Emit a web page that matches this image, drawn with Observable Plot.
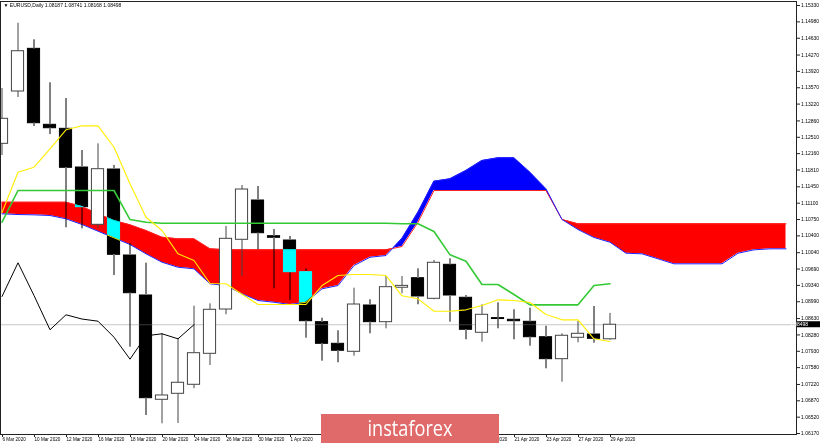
<!DOCTYPE html>
<html><head><meta charset="utf-8">
<script src="https://cdn.jsdelivr.net/npm/d3@7"></script>
<script src="https://cdn.jsdelivr.net/npm/@observablehq/plot@0.6"></script>
<style>
html,body{margin:0;padding:0;background:#fff;}
#wrap{position:relative;width:820px;height:445px;overflow:hidden;}
#wm{position:absolute;left:321px;top:414px;}
</style></head><body>
<div id="wrap"><div id="chart"></div>
<svg id="wm" width="178" height="29"><rect width="178" height="29" fill="#e06a6a"></rect><text x="89" y="21.5" text-anchor="middle" fill="#fff" font-family="Open Sans, sans-serif" font-size="21" textLength="85" lengthAdjust="spacingAndGlyphs">instaforex</text></svg>
</div>
<script>
const title = "\u25BC EURUSD,Daily 1.08187 1.08741 1.08168 1.08498";
const dates = ["6 Mar 2020","9 Mar 2020","10 Mar 2020","11 Mar 2020","12 Mar 2020","13 Mar 2020","16 Mar 2020","17 Mar 2020","18 Mar 2020","19 Mar 2020","20 Mar 2020","23 Mar 2020","24 Mar 2020","25 Mar 2020","26 Mar 2020","27 Mar 2020","30 Mar 2020","31 Mar 2020","1 Apr 2020","2 Apr 2020","3 Apr 2020","6 Apr 2020","7 Apr 2020","8 Apr 2020","9 Apr 2020","10 Apr 2020","13 Apr 2020","14 Apr 2020","15 Apr 2020","16 Apr 2020","17 Apr 2020","20 Apr 2020","21 Apr 2020","22 Apr 2020","23 Apr 2020","24 Apr 2020","27 Apr 2020","28 Apr 2020","29 Apr 2020"];
const opens  = [1.12370,1.13490,1.14403,1.12777,1.12691,1.11863,1.10637,1.11820,1.09980,1.09124,1.06892,1.07020,1.07213,1.07876,1.08824,1.10316,1.11157,1.10393,1.10301,1.09623,1.08553,1.08090,1.07919,1.08910,1.08553,1.09290,1.09494,1.09053,1.09781,1.09075,1.08326,1.08640,1.08604,1.08561,1.08231,1.07761,1.08219,1.08289,1.08187];
const highs  = [1.13554,1.14951,1.14596,1.13676,1.13340,1.12227,1.12370,1.11906,1.10237,1.09815,1.08311,1.08204,1.08895,1.08946,1.10601,1.11478,1.11457,1.10536,1.10387,1.09695,1.08638,1.08369,1.09280,1.09032,1.09531,1.09531,1.09695,1.09873,1.09909,1.09124,1.08925,1.08968,1.08818,1.08852,1.08467,1.08304,1.08568,1.08889,1.08741];
const lows   = [1.12120,1.13361,1.12741,1.12569,1.10573,1.10551,1.10560,1.09552,1.08018,1.06556,1.06378,1.06385,1.07130,1.07626,1.08711,1.09531,1.10102,1.09267,1.09017,1.08210,1.07718,1.07684,1.07825,1.08304,1.08411,1.09160,1.08925,1.09032,1.08553,1.08176,1.08125,1.08411,1.08176,1.08039,1.07555,1.07269,1.08112,1.08103,1.08168];
const closes = [1.12905,1.14352,1.12811,1.12704,1.11857,1.11014,1.11827,1.09995,1.09173,1.06926,1.06984,1.07256,1.07889,1.08818,1.10337,1.11392,1.10457,1.10359,1.09623,1.08574,1.08090,1.07941,1.08931,1.08553,1.09302,1.09330,1.09103,1.09824,1.09124,1.08390,1.08711,1.08620,1.08574,1.08231,1.07761,1.08262,1.08304,1.08197,1.08498];
const tenkan = [1.10900,1.11762,1.11869,1.12263,1.12670,1.12755,1.12755,1.12297,1.11514,1.10799,1.10515,1.10016,1.09872,1.09380,1.09374,1.09151,1.08931,1.08931,1.08931,1.08931,1.09337,1.09551,1.09573,1.09573,1.09551,1.09117,1.09053,1.08787,1.08787,1.08817,1.08910,1.09031,1.09016,1.08974,1.08716,1.08603,1.08603,1.08197,1.08139];
const kijun  = [1.10692,1.11371,1.11371,1.11371,1.11371,1.11371,1.11371,1.11371,1.10750,1.10690,1.10670,1.10670,1.10670,1.10670,1.10670,1.10670,1.10670,1.10670,1.10670,1.10670,1.10670,1.10670,1.10670,1.10670,1.10670,1.10660,1.10660,1.10493,1.09994,1.09857,1.09359,1.09359,1.09145,1.08924,1.08924,1.08924,1.08924,1.09337,1.09374];
const spanA  = [1.10872,1.10857,1.10850,1.10836,1.10765,1.10643,1.10500,1.10358,1.10215,1.10016,1.09836,1.09729,1.09695,1.09374,1.09337,1.09160,1.09016,1.08980,1.08931,1.08980,1.09267,1.09337,1.09765,1.09943,1.09979,1.10343,1.10906,1.11570,1.11621,1.11799,1.12013,1.12070,1.12070,1.11762,1.11407,1.10750,1.10536,1.10365,1.10264,1.10029,1.10016,1.09909,1.09802,1.09802,1.09802,1.09802,1.10029,1.10101,1.10123,1.10123];
const spanB  = [1.11120,1.11120,1.11120,1.11120,1.11120,1.11028,1.10872,1.10729,1.10636,1.10515,1.10371,1.10337,1.10337,1.10123,1.10101,1.10101,1.10101,1.10101,1.10101,1.10101,1.10101,1.10101,1.10101,1.10101,1.10101,1.10172,1.10692,1.11371,1.11371,1.11371,1.11371,1.11371,1.11371,1.11371,1.11371,1.10750,1.10658,1.10658,1.10658,1.10658,1.10658,1.10658,1.10658,1.10658,1.10658,1.10658,1.10658,1.10658,1.10658,1.10658];
const yTicks = [1.15330,1.14980,1.14630,1.14270,1.13920,1.13570,1.13220,1.12860,1.12510,1.12160,1.11810,1.11450,1.11100,1.10750,1.10400,1.10040,1.09690,1.09340,1.08990,1.08630,1.08280,1.07930,1.07580,1.07220,1.06870,1.06520,1.06170];
// every second bar is labelled; the labels from 3 Apr to 15 Apr lie under the watermark
const xTickIdx = [0,2,4,6,8,10,12,14,16,18,30,32,34,36,38];

const candles = opens.map((o, i) => ({
  i, o, h: highs[i], l: lows[i], c: closes[i],
  up: closes[i] >= o, top: Math.max(o, closes[i]), bot: Math.min(o, closes[i])
}));
const chikou = closes.slice(26).map((c, i) => ({i, c}));

const cloud = [];
for (let i = 0; i < spanA.length; i++) {
  cloud.push({x: i, a: spanA[i], b: spanB[i]});
  if (i + 1 < spanA.length) {
    const d0 = spanA[i] - spanB[i], d1 = spanA[i+1] - spanB[i+1];
    if (d0 * d1 < 0) {
      const t = d0 / (d0 - d1);
      const v = spanA[i] + t * (spanA[i+1] - spanA[i]);
      cloud.push({x: i + t, a: v, b: v});
    }
  }
}
const last = closes[closes.length - 1];
const hw = 0.38;

const plot = Plot.plot({
  width: 820, height: 445,
  marginTop: 1, marginBottom: 11, marginLeft: 0, marginRight: 24,
  style: {fontFamily: "Liberation Sans, Arial, sans-serif", fontSize: "5px", background: "#fff", color: "#000"},
  x: {type: "linear", domain: [-0.09375, 49.65625], axis: null},
  y: {domain: [1.06149, 1.15416], axis: null},
  marks: [
    Plot.frame({fill: "#fff", stroke: "none"}),
    Plot.ruleY([last], {stroke: "#c6c6c6", strokeWidth: 1}),
    Plot.areaY(cloud, {x: "x", y1: d => Math.min(d.a, d.b), y2: "b", fill: "#ff0000", curve: "linear"}),
    Plot.areaY(cloud, {x: "x", y1: d => Math.min(d.a, d.b), y2: "a", fill: "#0000ff", curve: "linear"}),
    Plot.lineY(cloud, {x: "x", y: "b", stroke: "#ff2020", strokeWidth: 1}),
    Plot.lineY(cloud, {x: "x", y: "a", stroke: "#2020ff", strokeWidth: 1}),
    Plot.ruleX(candles, {x: "i", y1: "h", y2: "top", stroke: d => d.up ? "#444" : "#000", strokeWidth: 1}),
    Plot.ruleX(candles, {x: "i", y1: "bot", y2: "l", stroke: d => d.up ? "#444" : "#000", strokeWidth: 1}),
    Plot.rect(candles.filter(d => !d.up), {x1: d => d.i - hw, x2: d => d.i + hw, y1: "o", y2: "c", fill: "#fff", stroke: "#fff", strokeWidth: 1, mixBlendMode: "difference"}),
    Plot.rect(candles.filter(d => d.up), {x1: d => d.i - hw, x2: d => d.i + hw, y1: "o", y2: "c", fill: "#fff", stroke: "#444", strokeWidth: 1, clip: true}),
    Plot.lineY(kijun, {x: (d, i) => i, y: d => d, stroke: "#34c934", strokeWidth: 1.6}),
    Plot.lineY(tenkan, {x: (d, i) => i, y: d => d, stroke: "#ffee00", strokeWidth: 1.1}),
    Plot.lineY(chikou, {x: "i", y: "c", stroke: "#000", strokeWidth: 1}),
    Plot.axisY(yTicks, {anchor: "right", tickSize: 3, tickPadding: 1.5, tickFormat: d => d.toFixed(5), fontSize: 5, stroke: "#222"}),
    Plot.axisX(xTickIdx, {anchor: "bottom", tickSize: 3, tickPadding: 0.5, tickFormat: i => dates[i], textAnchor: "start", dx: 0.5, fontSize: 4.6, stroke: "#222"}),
    Plot.frame({stroke: "#222", strokeWidth: 1}),
    Plot.text([title], {frameAnchor: "top-left", dx: 3, dy: 2, text: d => d, textAnchor: "start", lineAnchor: "top", fontSize: 5, fill: "#000"})
  ]
});
document.getElementById("chart").appendChild(plot);

const ys = plot.scale("y"), xs = plot.scale("x");
const yy = ys.apply(last);
const x0 = xs.range[1] + 1;
const g = d3.select(plot).append("g");
g.append("rect").attr("x", x0).attr("y", yy - 3).attr("width", 23).attr("height", 6).attr("fill", "#000");
g.append("text").attr("x", x0 + 2).attr("y", yy).attr("dy", "0.35em").attr("fill", "#fff").attr("font-size", 5).text(last.toFixed(5));
</script>
</body></html>
